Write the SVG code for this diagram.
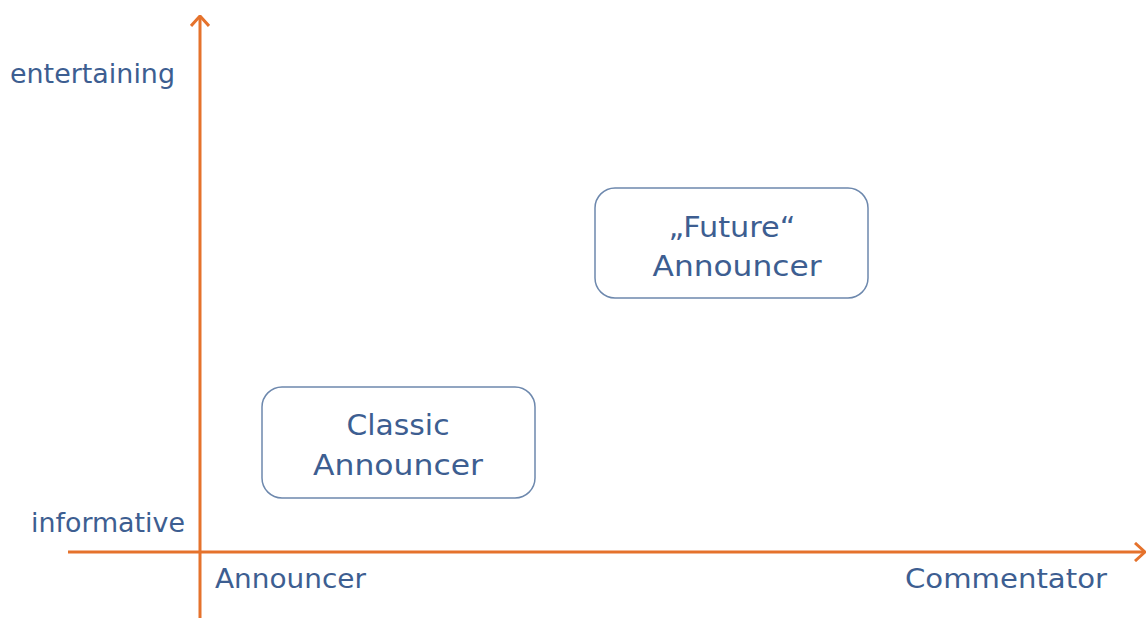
<svg xmlns="http://www.w3.org/2000/svg" width="1148" height="618" viewBox="0 0 1148 618">
<style>
.t{font-family:"DejaVu Sans","Liberation Sans",sans-serif;fill:#3d5e91;font-size:26px}
.b{font-size:29px}
.c{text-anchor:middle}
.box{fill:#fff;stroke:#6d88ad;stroke-width:1.5}
.axis{stroke:#e5722c;stroke-width:3;fill:none}
</style>
<defs>
<marker id="ah" viewBox="0 0 12 20" refX="11" refY="10" markerWidth="12" markerHeight="20" markerUnits="userSpaceOnUse" orient="auto">
<path d="M1,1 L11,10 L1,19" fill="none" stroke="#e5722c" stroke-width="3"/>
</marker>
</defs>
<rect width="1148" height="618" fill="#fff"/>
<g id="connectors">
<line class="axis" x1="200" y1="618" x2="200" y2="16" marker-end="url(#ah)"/>
<line class="axis" x1="68" y1="552" x2="1145" y2="552" marker-end="url(#ah)"/>
</g>
<g id="labels">
<text class="t" x="10" y="83" textLength="165" lengthAdjust="spacingAndGlyphs">entertaining</text>
<text class="t" x="31" y="532" textLength="154" lengthAdjust="spacingAndGlyphs">informative</text>
<text class="t" x="215" y="588" textLength="151" lengthAdjust="spacingAndGlyphs">Announcer</text>
<text class="t" x="905" y="588" textLength="202" lengthAdjust="spacingAndGlyphs">Commentator</text>
</g>
<g id="future">
<rect class="box" x="595" y="188" width="273" height="110" rx="20"/>
<text class="t b c" x="732" y="237" textLength="127" lengthAdjust="spacingAndGlyphs">„Future“</text>
<text class="t b c" x="737" y="276" textLength="169" lengthAdjust="spacingAndGlyphs">Announcer</text>
</g>
<g id="classic">
<rect class="box" x="262" y="387" width="273" height="111" rx="20"/>
<text class="t b c" x="398" y="435" textLength="103" lengthAdjust="spacingAndGlyphs">Classic</text>
<text class="t b c" x="398" y="475" textLength="170" lengthAdjust="spacingAndGlyphs">Announcer</text>
</g>
</svg>
